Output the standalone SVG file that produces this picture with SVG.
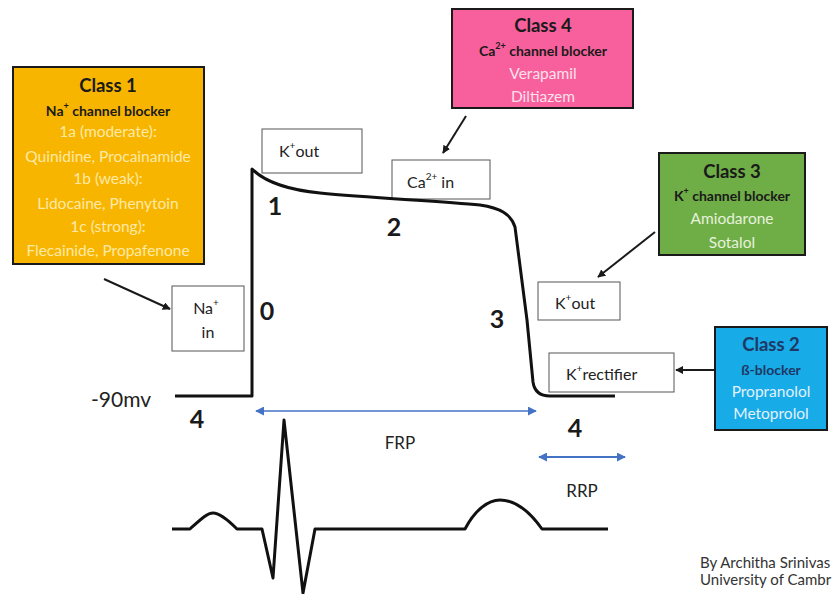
<svg xmlns="http://www.w3.org/2000/svg" width="832" height="594" viewBox="0 0 832 594">
<style>
text{font-family:Lato,"Liberation Sans",sans-serif;dominant-baseline:central}
.ttl{font-size:18.5px;font-weight:bold;text-anchor:middle;fill:#1a1a1a}
.sub{font-size:14px;font-weight:bold;text-anchor:middle;fill:#1a1a1a}
.drug{font-size:15.5px;text-anchor:middle}
.cls{stroke:#1a1a1a;stroke-width:2}
.ion{fill:#fff;stroke:#555;stroke-width:1}
.il{font-size:16px;fill:#222}
.num{font-size:25px;font-weight:bold;fill:#1a1a1a;text-anchor:middle}
.lbl{font-size:17px;fill:#222;text-anchor:middle}
.conn{stroke:#1a1a1a;stroke-width:2;fill:none;marker-end:url(#ah)}
.trace{stroke:#111;stroke-width:3;fill:none;stroke-linejoin:round}
.blue{stroke:#4472C4;stroke-width:1.5;fill:none;marker-start:url(#bs);marker-end:url(#be)}
</style>
<defs>
<marker id="ah" viewBox="0 0 10 10" refX="9" refY="5" markerWidth="4" markerHeight="4" orient="auto"><path d="M0,0 L10,5 L0,10 z" fill="#1a1a1a"/></marker>
<marker id="be" viewBox="0 0 10 10" refX="9" refY="5" markerWidth="9" markerHeight="9" markerUnits="userSpaceOnUse" orient="auto"><path d="M0,0 L10,5 L0,10 z" fill="#4472C4"/></marker>
<marker id="bs" viewBox="0 0 10 10" refX="1" refY="5" markerWidth="9" markerHeight="9" markerUnits="userSpaceOnUse" orient="auto"><path d="M10,0 L0,5 L10,10 z" fill="#4472C4"/></marker>
</defs>
<rect width="832" height="594" fill="#fff"/>

<g id="class1">
<rect class="cls" x="13" y="67" width="191" height="197" fill="#F7B500"/>
<text class="ttl" x="108" y="85">Class 1</text>
<text class="sub" x="108" y="110">Na<tspan font-size="9" dy="-5">+</tspan><tspan dy="5"> channel blocker</tspan></text>
<g fill="#FFE9A6">
<text class="drug" x="108" y="131">1a (moderate):</text>
<text class="drug" x="108" y="156">Quinidine, Procainamide</text>
<text class="drug" x="108" y="178">1b (weak):</text>
<text class="drug" x="108" y="203">Lidocaine, Phenytoin</text>
<text class="drug" x="108" y="226">1c (strong):</text>
<text class="drug" x="108" y="250">Flecainide, Propafenone</text>
</g>
</g>

<g id="class4">
<rect class="cls" x="452" y="9" width="181" height="99" fill="#F7609C"/>
<text class="ttl" x="543" y="25">Class 4</text>
<text class="sub" x="543" y="50">Ca<tspan font-size="9" dy="-5">2+</tspan><tspan dy="5"> channel blocker</tspan></text>
<g fill="#FDE0EC">
<text class="drug" x="543" y="73">Verapamil</text>
<text class="drug" x="543" y="96">Diltiazem</text>
</g>
</g>

<g id="class3">
<rect class="cls" x="659" y="153" width="146" height="102" fill="#6FAD46"/>
<text class="ttl" x="732" y="171">Class 3</text>
<text class="sub" x="732" y="195">K<tspan font-size="9" dy="-5">+</tspan><tspan dy="5"> channel blocker</tspan></text>
<g fill="#E6F2DC">
<text class="drug" x="732" y="218">Amiodarone</text>
<text class="drug" x="732" y="242">Sotalol</text>
</g>
</g>

<g id="class2">
<rect class="cls" x="715" y="327" width="112" height="103" fill="#17ABE8"/>
<text class="ttl" x="771" y="344" style="fill:#1F3864">Class 2</text>
<text class="sub" x="771" y="369" style="fill:#1F3864">ß-blocker</text>
<g fill="#E3F1FB">
<text class="drug" x="771" y="391">Propranolol</text>
<text class="drug" x="771" y="413">Metoprolol</text>
</g>
</g>

<g id="kout1">
<rect class="ion" x="262" y="129" width="100" height="44"/>
<text class="il" x="279" y="150">K<tspan font-size="10" dy="-5">+</tspan><tspan dy="5">out</tspan></text>
</g>
<g id="cain">
<rect class="ion" x="392" y="160" width="98" height="39"/>
<text class="il" x="407" y="181">Ca<tspan font-size="10" dy="-5">2+</tspan><tspan dy="5"> in</tspan></text>
</g>
<g id="nain">
<rect class="ion" x="172" y="286" width="72" height="65"/>
<text class="il" x="206" y="307" text-anchor="middle">Na<tspan font-size="10" dy="-5">+</tspan></text>
<text class="il" x="208" y="331" text-anchor="middle">in</text>
</g>
<g id="kout2">
<rect class="ion" x="538" y="282" width="82" height="38"/>
<text class="il" x="555" y="302">K<tspan font-size="10" dy="-5">+</tspan><tspan dy="5">out</tspan></text>
</g>
<g id="krect">
<rect class="ion" x="549" y="353" width="125" height="39"/>
<text class="il" x="566" y="373">K<tspan font-size="10" dy="-5">+</tspan><tspan dy="5">rectifier</tspan></text>
</g>

<g id="action-potential">
<path class="trace" d="M175,396 H252 V169 C262,179 280,189 320,193 C370,198 440,201 480,205 C500,208 511,214 515,227 L527,320 L533,382 Q535,396 550,396 H615"/>
<text x="121" y="398" style="font-size:21px;fill:#222;text-anchor:middle">-90mv</text>
<text class="num" x="267" y="310">0</text>
<text class="num" x="275" y="205">1</text>
<text class="num" x="394" y="226">2</text>
<text class="num" x="497" y="318">3</text>
<text class="num" x="197" y="418">4</text>
<text class="num" x="575" y="427">4</text>
</g>

<g id="ecg">
<path class="trace" d="M172,529 H190 C200,520 207,513 213,513 C220,513 228,520 237,529 H262 L273,578 L284,420 L303,593 L315,529 H465 C475,510 488,500 500,500 C515,500 530,512 542,529 H608"/>
</g>

<g id="periods">
<line class="blue" x1="256" y1="411" x2="536" y2="411"/>
<text class="lbl" x="400" y="442">FRP</text>
<line class="blue" x1="539" y1="457" x2="625" y2="457" style="stroke-width:2"/>
<text class="lbl" x="582" y="490">RRP</text>
</g>

<g id="connectors">
<line class="conn" x1="104" y1="279" x2="170" y2="309"/>
<line class="conn" x1="466" y1="116" x2="443" y2="153"/>
<line class="conn" x1="655" y1="232" x2="598" y2="277"/>
<line class="conn" x1="714" y1="370" x2="676" y2="370"/>
</g>

<g id="credit">
<text x="700" y="562" style="font-size:15px;fill:#333">By Architha Srinivas</text>
<text x="700" y="579" style="font-size:15px;fill:#333">University of Cambr</text>
</g>
</svg>
